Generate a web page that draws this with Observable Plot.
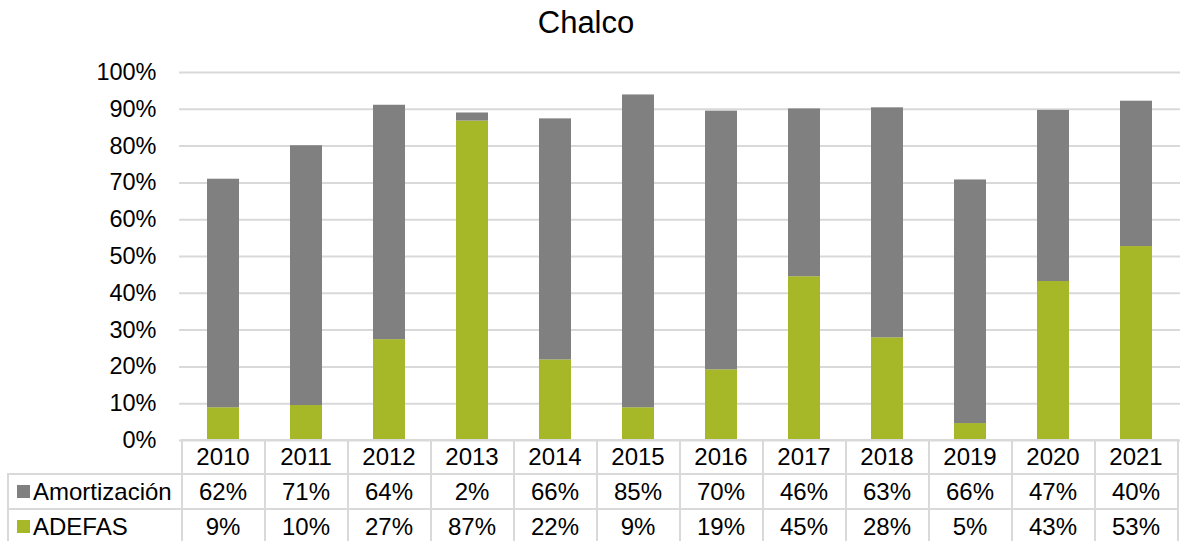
<!DOCTYPE html>
<html><head><meta charset="utf-8">
<script src="https://cdn.jsdelivr.net/npm/d3@7"></script>
<script src="https://cdn.jsdelivr.net/npm/@observablehq/plot@0.6"></script>
<style>
body{margin:0;background:#fff;font-family:"Liberation Sans",Arial,sans-serif;}
#wrap{position:relative;width:1180px;height:541px;overflow:hidden;background:#fff;}
#title{position:absolute;left:0;top:0;width:1172px;text-align:center;font-size:31px;line-height:45px;color:#000;}
#chart{position:absolute;left:0;top:60px;}
.cell{position:absolute;display:flex;align-items:center;justify-content:center;font-size:24px;color:#000;white-space:nowrap;}
.ln{position:absolute;background:#d9d9d9;}
.sw{position:absolute;width:13px;height:13px;}
</style></head><body>
<div id="wrap"><div id="title">Chalco</div><div id="chart"></div></div>
<script>
const years = ["2010","2011","2012","2013","2014","2015","2016","2017","2018","2019","2020","2021"];
const amortizacion = [62.1, 70.6, 63.7, 2.2, 65.5, 85.0, 70.3, 45.6, 62.5, 66.2, 46.5, 39.5];
const adefas = [8.9, 9.5, 27.4, 86.8, 21.9, 8.9, 19.2, 44.5, 27.9, 4.6, 43.2, 52.7];
const seriesNames = ["ADEFAS", "Amortización"];
const seriesColors = ["#A6B727", "#808080"];
const yTicks = [0, 0.1, 0.2, 0.3, 0.4, 0.5, 0.6, 0.7, 0.8, 0.9, 1];
const tableRows = ["Amortización", "ADEFAS"];

const data = [];
years.forEach((y, i) => data.push({year: y, series: "ADEFAS", value: adefas[i] / 100}));
years.forEach((y, i) => data.push({year: y, series: "Amortización", value: amortizacion[i] / 100}));

const chart = Plot.plot({
  width: 1180, height: 400,
  marginTop: 12, marginBottom: 20, marginLeft: 179, marginRight: 0,
  style: {fontFamily: "Liberation Sans, Arial, sans-serif", fontSize: "23.5px", color: "#000", background: "transparent", overflow: "visible"},
  x: {type: "band", domain: years, paddingInner: 0.615, paddingOuter: 0.3075, axis: null},
  y: {domain: [0, 1], ticks: yTicks, tickFormat: d => Math.round(d * 100) + "%", tickSize: 0, tickPadding: 23, label: null},
  color: {domain: seriesNames, range: seriesColors},
  marks: [
    Plot.ruleY(yTicks, {stroke: "#d9d9d9", strokeWidth: 2}),
    Plot.barY(data, Plot.stackY({x: "year", y: "value", fill: "series"}))
  ]
});
document.getElementById("chart").appendChild(chart);

const wrap = document.getElementById("wrap");
const xs = chart.scale("x");
const step = xs.step || (1180 - 179) / years.length;
const center = y => xs.apply(y) + xs.bandwidth / 2;
const rowTop = [440, 474, 509];
const rowH = [34, 35, 35];
function add(cls, styles, text) {
  const d = document.createElement("div");
  d.className = cls;
  Object.assign(d.style, styles);
  if (text != null) d.textContent = text;
  wrap.appendChild(d);
  return d;
}
// header years
years.forEach(y => {
  const c = center(y);
  add("cell", {left: (c - step / 2) + "px", top: rowTop[0] + "px", width: step + "px", height: rowH[0] + "px"}, y);
});
// data rows
const rowVals = [amortizacion, adefas];
tableRows.forEach((name, r) => {
  const top = rowTop[r + 1], h = rowH[r + 1];
  years.forEach((y, i) => {
    const c = center(y);
    add("cell", {left: (c - step / 2) + "px", top: top + "px", width: step + "px", height: h + "px"}, Math.round(rowVals[r][i]) + "%");
  });
  const color = seriesColors[seriesNames.indexOf(name)];
  add("sw", {left: "17px", top: (top + h / 2 - 7) + "px", background: color});
  add("cell", {left: "33px", top: top + "px", height: h + "px", justifyContent: "flex-start"}, name);
});
// lines
const xFirst = center(years[0]) - step / 2;
const xLast = Math.min(1178, center(years[years.length - 1]) + step / 2);
add("ln", {left: xFirst + "px", top: "439px", width: (xLast - xFirst + 1) + "px", height: "2px"});
add("ln", {left: "8px", top: "473px", width: (xLast - 8 + 1) + "px", height: "2px"});
add("ln", {left: "8px", top: "508px", width: (xLast - 8 + 1) + "px", height: "2px"});
add("ln", {left: "7px", top: "473px", width: "2px", height: "70px"});
for (let i = 0; i <= years.length; i++) {
  const xx = i < years.length ? center(years[i]) - step / 2 : xLast;
  add("ln", {left: (xx - 1) + "px", top: "439px", width: "2px", height: "104px"});
}
</script>
</body></html>
